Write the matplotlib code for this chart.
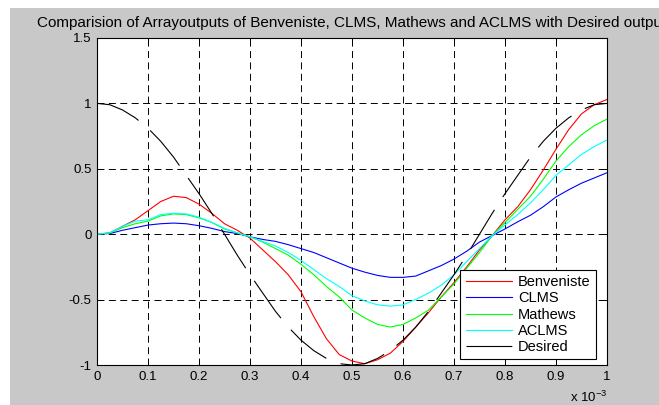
import numpy as np
import matplotlib
matplotlib.use("Agg")
import matplotlib.pyplot as plt
from matplotlib.patches import Rectangle
from matplotlib.ticker import FuncFormatter, MultipleLocator

plt.rcParams["font.family"] = ["Liberation Sans", "DejaVu Sans"]
plt.rcParams["axes.unicode_minus"] = False
plt.rcParams["mathtext.default"] = "regular"
plt.rcParams["lines.scale_dashes"] = False

# sample times (s), 0 .. 1 ms in 0.025 ms steps
t = np.linspace(0, 1e-3, 41)

benveniste = [0, 0.01, 0.06, 0.11, 0.18, 0.25, 0.29, 0.28, 0.23, 0.16, 0.08,
              0.03, -0.03, -0.12, -0.21, -0.31, -0.44, -0.63, -0.80, -0.92, -0.97,
              -0.99, -0.96, -0.91, -0.82, -0.71, -0.60, -0.48, -0.37, -0.25, -0.12,
              -0.01, 0.11, 0.21, 0.34, 0.49, 0.65, 0.80, 0.92, 0.99, 1.03]
clms = [0, 0.005, 0.03, 0.05, 0.07, 0.08, 0.085, 0.08, 0.065, 0.045, 0.02,
        0.005, -0.02, -0.04, -0.055, -0.08, -0.11, -0.14, -0.18, -0.22, -0.26,
        -0.29, -0.315, -0.33, -0.33, -0.32, -0.28, -0.24, -0.19, -0.13, -0.06,
        -0.01, 0.04, 0.095, 0.145, 0.21, 0.285, 0.34, 0.39, 0.43, 0.47]
mathews = [0, 0.01, 0.05, 0.08, 0.10, 0.14, 0.155, 0.15, 0.125, 0.09, 0.04,
           0.01, -0.02, -0.06, -0.11, -0.16, -0.23, -0.31, -0.40, -0.48, -0.58,
           -0.64, -0.69, -0.71, -0.69, -0.64, -0.58, -0.48, -0.38, -0.26, -0.14,
           -0.01, 0.09, 0.19, 0.29, 0.42, 0.56, 0.67, 0.76, 0.83, 0.88]
aclms = [0, 0.01, 0.06, 0.10, 0.11, 0.15, 0.16, 0.155, 0.13, 0.09, 0.045,
         0.01, -0.02, -0.055, -0.09, -0.14, -0.20, -0.27, -0.34, -0.40, -0.47,
         -0.51, -0.54, -0.55, -0.54, -0.50, -0.45, -0.39, -0.31, -0.21, -0.11,
         -0.01, 0.07, 0.15, 0.24, 0.34, 0.45, 0.53, 0.61, 0.67, 0.72]
desired = [1, 0.99, 0.95, 0.89, 0.81, 0.71, 0.59, 0.45, 0.31, 0.16, 0,
           -0.16, -0.31, -0.45, -0.59, -0.71, -0.81, -0.89, -0.95, -0.99, -1,
           -0.99, -0.95, -0.89, -0.81, -0.71, -0.59, -0.45, -0.31, -0.16, 0,
           0.16, 0.31, 0.45, 0.59, 0.71, 0.81, 0.89, 0.95, 0.99, 1]

labels = ["Benveniste", "CLMS", "Mathews", "ACLMS", "Desired"]
colors = ["#ff0000", "#0000ff", "#00ff00", "#00ffff", "#000000"]

W, H = 659, 405
fig = plt.figure(figsize=(W / 100, H / 100), dpi=100)
fig.patch.set_facecolor("white")
fig.add_artist(Rectangle((10 / W, 0), 1, 1 - 8 / H, transform=fig.transFigure,
                         facecolor="#c8c8c8", edgecolor="none", zorder=-10))

ax = fig.add_axes([97 / W, (H - 365) / H, 510 / W, 327 / H])
ax.set_facecolor("white")

for y, lab, col in zip([benveniste, clms, mathews, aclms], labels[:4], colors[:4]):
    ax.plot(t, y, color=col, lw=0.8, label=lab)
ax.plot(t, desired, color=colors[4], lw=0.8, ls=(0, (33, 11)), label=labels[4])

ax.set_xlim(0, 1e-3)
ax.set_ylim(-1, 1.5)
ax.xaxis.set_major_locator(MultipleLocator(1e-4))
ax.yaxis.set_major_locator(MultipleLocator(0.5))
ax.xaxis.set_major_formatter(FuncFormatter(lambda v, p: f"{v * 1e3:g}"))
ax.yaxis.set_major_formatter(FuncFormatter(lambda v, p: f"{v:g}"))
ax.grid(True, color="k", lw=0.7, ls=(0, (5, 3.2)))
ax.tick_params(direction="in", top=True, right=True, length=4, width=0.7,
               labelsize=9.5, pad=4)
for s in ax.spines.values():
    s.set_linewidth(0.8)

leg = ax.legend(loc="lower right", bbox_to_anchor=(0.978, 0.018), borderaxespad=0,
                fontsize=10.5, handlelength=3.2, handletextpad=0.4,
                labelspacing=0.15, borderpad=0.35, fancybox=False, framealpha=1,
                edgecolor="k")
leg.get_frame().set_linewidth(0.8)

fig.text(352 / W, 1 - 27 / H,
         "Comparision of Arrayoutputs of Benveniste, CLMS, Mathews and ACLMS with Desired output",
         ha="center", va="baseline", fontsize=11)
fig.text(607 / W, 1 - 402 / H, r"x 10$^{-3}$", ha="right", va="baseline", fontsize=9.5)

fig.savefig("out.png", dpi=100)
